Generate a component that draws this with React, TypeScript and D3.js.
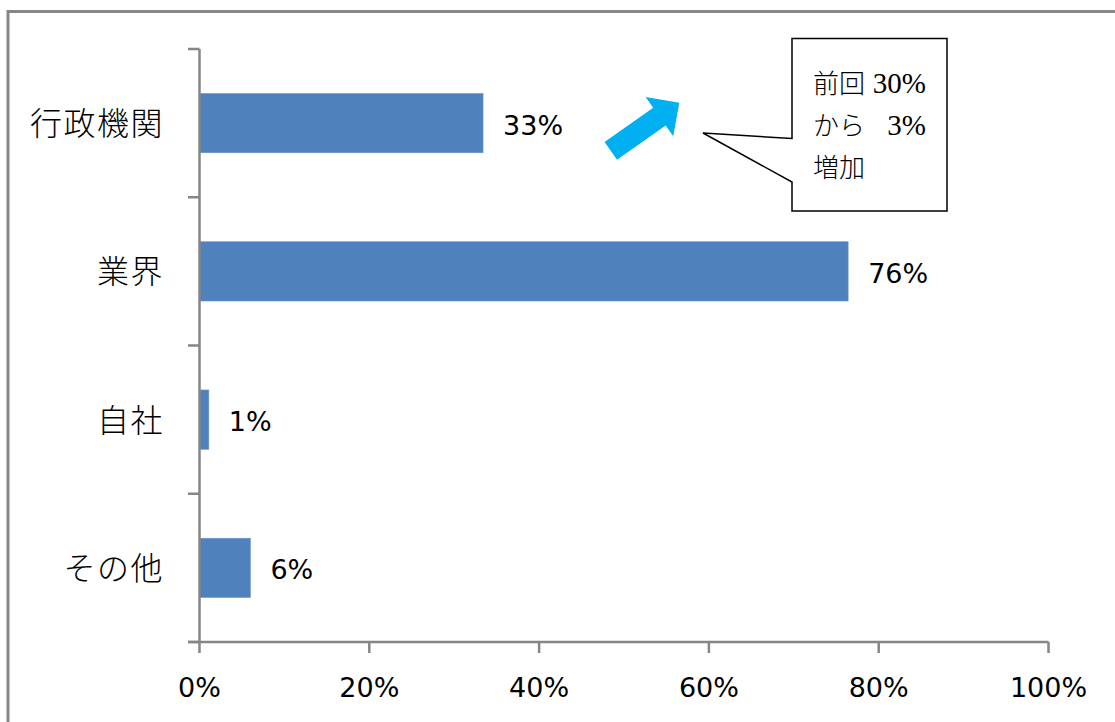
import React from "react";
import * as d3 from "d3";

const categories = ["行政機関", "業界", "自社", "その他"];
const values = [33.4, 76.4, 1.1, 6.0];
const valueLabels = ["33%", "76%", "1%", "6%"];
const xTicks = [0, 20, 40, 60, 80, 100];
const calloutCjk = ["前回", "から", "増加"];
const calloutNum = ["30%", "3%", ""];

const W = 1115;
const H = 722;
const AXIS = "#868686";
const BAR = "#4F81BD";
const SANS = "'DejaVu Sans', Verdana, sans-serif";
const CJK = "'Noto Sans CJK JP', sans-serif";
const SERIF = "'Liberation Serif', 'Noto Sans CJK JP', serif";

export default function App() {
  const x = d3.scaleLinear().domain([0, 100]).range([199.5, 1048.5]);
  const y = d3
    .scaleBand<string>()
    .domain(categories)
    .range([49, 642])
    .paddingInner(0.6)
    .paddingOuter(0.3);
  const step = y.step();
  const boundaries = d3.range(categories.length + 1).map((i) => 49 + i * step);

  // arrow in local coordinates (along arrow axis)
  const shaftLen = 59.4;
  const totalLen = 83.7;
  const sw = 10.85;
  const hw = 24;
  const arrowPts = [
    [0, -sw],
    [shaftLen, -sw],
    [shaftLen, -hw],
    [totalLen, 0],
    [shaftLen, hw],
    [shaftLen, sw],
    [0, sw],
  ];
  const tail = [610.8, 150.8];
  const angle = (Math.atan2(-48.1, 68.5) * 180) / Math.PI;

  // callout box
  const bx0 = 792, by0 = 38.5, bx1 = 947, by1 = 211;
  const callout = [
    [bx0, by0],
    [bx1, by0],
    [bx1, by1],
    [bx0, by1],
    [bx0, 182],
    [703, 133],
    [bx0, 138.5],
  ];

  return (
    <svg
      width={W}
      height={H}
      style={{ position: "absolute", left: 0, top: 0, background: "#fff" }}
    >
      <rect x={0} y={0} width={W} height={H} fill="#fff" />
      <rect x={8} y={11.5} width={1300} height={900} fill="none" stroke="#878787" strokeWidth={3} />

      {/* bars */}
      {categories.map((c, i) => (
        <rect
          key={c}
          x={x(0)}
          y={y(c)!}
          width={x(values[i]) - x(0)}
          height={y.bandwidth()}
          fill={BAR}
          stroke="#6f98c9"
          strokeWidth={0.6}
        />
      ))}

      {/* y axis */}
      <line x1={x(0)} x2={x(0)} y1={49} y2={642} stroke={AXIS} strokeWidth={2.5} />
      {boundaries.map((b, i) => (
        <line key={i} x1={188} x2={x(0)} y1={b} y2={b} stroke={AXIS} strokeWidth={2.5} />
      ))}
      {/* x axis */}
      <line x1={188} x2={x(100)} y1={642} y2={642} stroke={AXIS} strokeWidth={2.5} />
      {xTicks.map((t) => (
        <g key={t}>
          <line x1={x(t)} x2={x(t)} y1={642} y2={653} stroke={AXIS} strokeWidth={2.5} />
          <text
            x={x(t)}
            y={697}
            textAnchor="middle"
            fontFamily={SANS}
            fontSize={27}
            fill="#000"
          >
            {t + "%"}
          </text>
        </g>
      ))}

      {/* category labels */}
      {categories.map((c) => (
        <text
          key={c}
          x={164}
          y={y(c)! + y.bandwidth() / 2 - 2}
          textAnchor="end"
          dominantBaseline="central"
          fontFamily={CJK}
          fontSize={32}
          fontWeight={300}
          letterSpacing={1.5}
          fill="#000"
        >
          {c}
        </text>
      ))}

      {/* data labels */}
      {categories.map((c, i) => (
        <text
          key={c}
          x={x(values[i]) + 20}
          y={y(c)! + y.bandwidth() / 2 + 2}
          dominantBaseline="central"
          fontFamily={SANS}
          fontSize={27}
          fill="#000"
        >
          {valueLabels[i]}
        </text>
      ))}

      {/* arrow */}
      <polygon
        points={arrowPts.map((p) => p.join(",")).join(" ")}
        transform={`translate(${tail[0]},${tail[1]}) rotate(${angle})`}
        fill="#00B0F0"
      />

      {/* callout */}
      <polygon
        points={callout.map((p) => p.join(",")).join(" ")}
        fill="#fff"
        stroke="#000"
        strokeWidth={1.5}
      />
      {calloutCjk.map((l, i) => (
        <g key={i}>
          <text x={813} y={93 + i * 42} fontFamily={CJK} fontWeight={300} fontSize={26} fill="#000">
            {l}
          </text>
          {calloutNum[i] && (
            <text
              x={926}
              y={93 + i * 42}
              textAnchor="end"
              fontFamily={SERIF}
              fontSize={29}
              fill="#000"
            >
              {calloutNum[i]}
            </text>
          )}
        </g>
      ))}
    </svg>
  );
}
